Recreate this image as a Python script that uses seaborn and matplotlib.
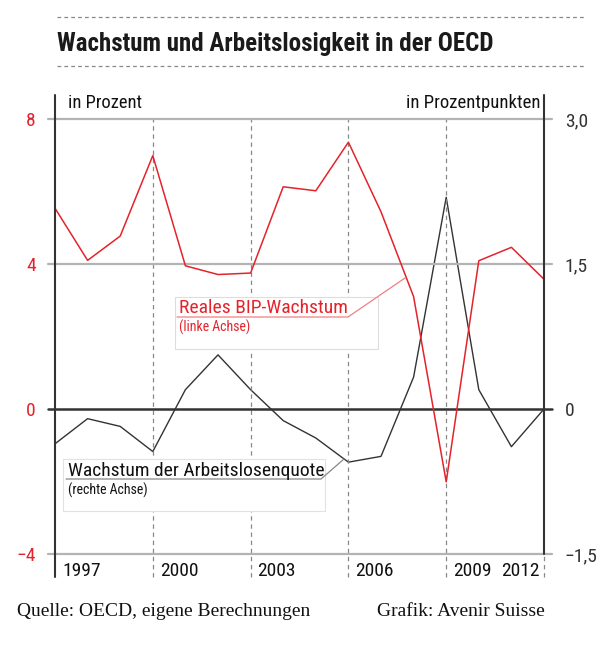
import numpy as np
import pandas as pd
import matplotlib
matplotlib.use("Agg")
import matplotlib.pyplot as plt
import seaborn as sns
from matplotlib import font_manager as fm
from matplotlib.patches import Rectangle

# data
years = list(range(1997, 2013))
gdp_growth = [5.54, 4.10, 4.77, 6.99, 3.95, 3.71, 3.75, 6.13, 6.02, 7.36,
              5.44, 3.10, -2.01, 4.09, 4.46, 3.58]
unemp_growth = [-0.36, -0.10, -0.18, -0.44, 0.20, 0.56, 0.20, -0.12, -0.30, -0.55,
                -0.49, 0.33, 2.19, 0.20, -0.39, 0.00]
left_ticks = [-4, 0, 4, 8]
left_labels = ["\u22124", "0", "4", "8"]
right_ticks = [-1.5, 0, 1.5, 3.0]
right_labels = ["\u22121,5", "0", "1,5", "3,0"]
year_labels = [1997, 2000, 2003, 2006, 2009, 2012]

data = pd.DataFrame({"Jahr": years, "BIP": gdp_growth, "ALQ": unemp_growth})

sns.set_style("white")

# pick a narrow sans face if one is around
names = {f.name for f in fm.fontManager.ttflist}
stretch = "normal"
narrow = None
for cand in ["Liberation Sans Narrow", "Roboto Condensed", "Open Sans Condensed",
             "DejaVu Sans Condensed", "Noto Sans Condensed"]:
    if cand in names:
        narrow = cand
        break
if narrow is None:
    for f in fm.fontManager.ttflist:
        if f.name == "DejaVu Sans" and "Condensed" in f.fname:
            narrow = "DejaVu Sans"
            stretch = "condensed"
            break
if narrow is None:
    narrow = "Roboto"
sans = [narrow, "DejaVu Sans"]
serif = ["Liberation Serif", "DejaVu Serif"]
plt.rcParams["font.family"] = sans
plt.rcParams["font.stretch"] = stretch
scale = 1.0 if narrow != "Roboto" else 0.93

RED = "#e4232b"
DARK = "#333333"
GRID = "#b3b3b3"

W, H = 600, 664
fig = plt.figure(figsize=(6, 6.64), dpi=100)
x0, x1, ytop, ybot = 55, 544, 119, 554
ax = fig.add_axes([x0 / W, 1 - ybot / H, (x1 - x0) / W, (ybot - ytop) / H])
ax2 = ax.twinx()

sns.lineplot(data=data, x="Jahr", y="BIP", ax=ax, color=RED, lw=1.1)
sns.lineplot(data=data, x="Jahr", y="ALQ", ax=ax2, color=DARK, lw=1.0)

ax.set_xlim(1997, 2012)
ax.set_ylim(-4, 8)
ax2.set_ylim(-1.5, 3.0)
for a in (ax, ax2):
    for s in a.spines.values():
        s.set_visible(False)
    a.set_xlabel("")
    a.set_ylabel("")
    a.set_xticks([])
ax.set_zorder(ax2.get_zorder() + 1)
ax.patch.set_visible(False)

fs = 14 * scale
ax.set_yticks(left_ticks)
ax.set_yticklabels(left_labels)
ax.tick_params(axis="y", length=0, pad=14, labelsize=fs, labelcolor=RED)
ax2.set_yticks(right_ticks)
ax2.set_yticklabels(right_labels)
ax2.tick_params(axis="y", length=0, pad=15, labelsize=fs, labelcolor=DARK)

# horizontal grid lines, slightly sticking out of the axes
for v in left_ticks:
    col, lw = (DARK, 1.8) if v == 0 else (GRID, 1.6)
    ax.axhline(v, xmin=-0.015, xmax=1.017, color=col, lw=lw, clip_on=False, zorder=1)

# vertical dashed year lines and solid axis lines
for yr in [2000, 2003, 2006, 2009]:
    ax.axvline(yr, ymin=-0.053, ymax=1.0, color="#888888", lw=0.9,
               ls=(0, (3.5, 3)), clip_on=False, zorder=0)
ax.axvline(1997, ymin=-0.053, ymax=1.055, color=DARK, lw=1.5, clip_on=False)
ax.axvline(2012, ymin=0.0, ymax=1.055, color=DARK, lw=1.5, clip_on=False)
ax.axvline(2012, ymin=-0.053, ymax=0.0, color="#888888", lw=0.9,
           ls=(0, (3.5, 3)), clip_on=False)

for yr in year_labels:
    right = yr == 2012
    ax.annotate(str(yr), xy=(yr, 0), xycoords=ax.get_xaxis_transform(),
                xytext=(-3 if right else 5, -6), textcoords="offset points",
                ha="right" if right else "left", va="top", fontsize=fs,
                color="#111111")

# overlay in pixel coordinates for labels and decorations
ov = fig.add_axes([0, 0, 1, 1], zorder=10)
ov.set_xlim(0, W)
ov.set_ylim(H, 0)
ov.axis("off")
ov.patch.set_visible(False)

ov.text(57, 44, "Wachstum und Arbeitslosigkeit in der OECD", fontsize=18 * scale,
        fontweight="bold", color="#1a1a1a", va="center", ha="left")
ov.plot([57, 585], [17, 17], color="#888888", lw=0.9, ls=(0, (3, 2.5)))
ov.plot([57, 585], [66, 66], color="#888888", lw=0.9, ls=(0, (3, 2.5)))

ov.text(68, 103, "in Prozent", fontsize=13.3 * scale, color="#111111", va="center")
ov.text(540, 103, "in Prozentpunkten", fontsize=13.5 * scale, color="#111111",
        va="center", ha="right")

# annotation: GDP (white box hides the grid behind it)
ov.add_patch(Rectangle((175, 297), 203, 52, fc="white", ec="#dddddd", lw=0.8))
ov.text(179, 313, "Reales BIP-Wachstum", fontsize=fs, color=RED, va="baseline")
ov.plot([177, 348, 405], [317, 317, 278], color="#f08080", lw=0.9)
ov.text(179, 327, "(linke Achse)", fontsize=10 * scale, color=RED, va="center")

# annotation: unemployment
ov.add_patch(Rectangle((63, 459), 262, 52, fc="white", ec="#e2e2e2", lw=0.8))
ov.text(68, 476, "Wachstum der Arbeitslosenquote", fontsize=fs, color="#111111",
        va="baseline")
ov.plot([66, 321, 344], [479, 479, 459], color="#888888", lw=0.9)
ov.text(68, 490, "(rechte Achse)", fontsize=10 * scale, color="#111111", va="center")

ov.text(17, 612, "Quelle: OECD, eigene Berechnungen", fontsize=14,
        family=serif, color="#111111", va="center")
ov.text(545, 612, "Grafik: Avenir Suisse", fontsize=14, family=serif,
        color="#111111", va="center", ha="right")

fig.savefig("out.png", dpi=100)
